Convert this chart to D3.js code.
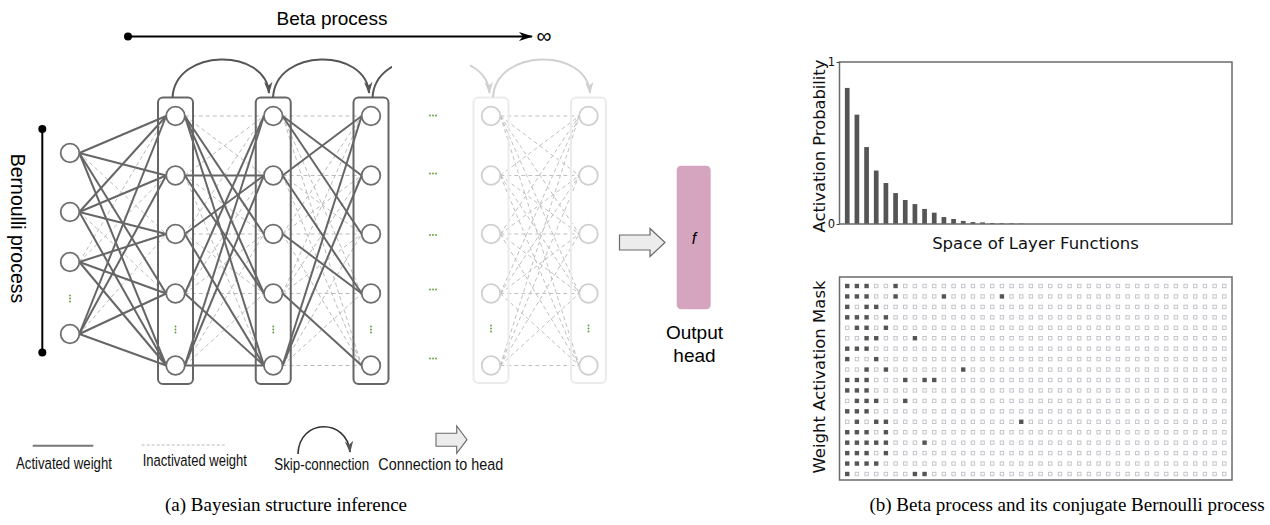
<!DOCTYPE html>
<html>
<head>
<meta charset="utf-8">
<script src="https://cdn.jsdelivr.net/npm/d3@7"></script>
<style>
  body { margin: 0; background: #fff; }
  svg { display: block; }
</style>
</head>
<body>
<svg id="fig" width="1270" height="525"></svg>
<script>
// ---------------- data ----------------
const inputNodes = ["x1", "x2", "x3", "xn"];
const hiddenNodes = ["h1", "h2", "h3", "h4", "hn"];
const denseLayers = [0, 1, 2];
const fadedLayers = [0, 1];

// activated weights: for each source node, the target nodes it connects to
const activeInTo1 = [[0, 1, 3, 4], [0, 1, 2, 4], [2, 3, 4], [0, 1, 3, 4]];
const active1To2 = [[2, 3, 4], [1, 3], [1, 4], [0, 4], [0, 1, 4]];
const active2To3 = [[1, 2], [0, 3], [3], [4], [0, 1]];

const legendLabels = ["Activated weight", "Inactivated weight", "Skip-connection", "Connection to head"];
const captionA = "(a) Bayesian structure inference";
const captionB = "(b) Beta process and its conjugate Bernoulli process";

// activation probability of each layer function (40 shown)
const activationProb = [
  0.84, 0.675, 0.475, 0.33, 0.253, 0.191, 0.148, 0.123, 0.093, 0.07,
  0.043, 0.031, 0.019, 0.012, 0.01, 0.006, 0.005, 0.004, 0.003, 0,
  0, 0, 0, 0, 0, 0, 0, 0, 0, 0,
  0, 0, 0, 0, 0, 0, 0, 0, 0, 0
];
const probTicks = [0, 1];

// weight activation mask: active columns in each row
const maskActive = [
  [0, 1, 2, 5], [0, 1, 2, 5, 10, 16], [0, 2, 3], [0, 1, 2, 4], [1, 2, 4],
  [2, 3, 7], [0, 1, 2], [0, 3], [2, 4, 12], [0, 1, 2, 6, 8, 9],
  [0, 1, 2], [1, 2, 3, 6], [0, 1, 2], [1, 3, 4, 18], [0, 1, 2, 4],
  [0, 1, 2, 3, 4, 8], [0, 1, 2, 4], [0, 1, 2, 3], [0, 7, 8]
];

// ---------------- drawing ----------------
const svg = d3.select("#fig");
svg.append("rect").attr("width", 1270).attr("height", 525).attr("fill", "#fff");

const SANS = "'Liberation Sans', Arial, Helvetica, sans-serif";
const DJV = "'DejaVu Sans', sans-serif";
const SERIF = "'Liberation Serif', 'Times New Roman', serif";

const defs = svg.append("defs");
function arrowMarker(id, color) {
  defs.append("marker")
    .attr("id", id).attr("viewBox", "0 0 12 10")
    .attr("refX", 11).attr("refY", 5)
    .attr("markerWidth", 12).attr("markerHeight", 10)
    .attr("markerUnits", "userSpaceOnUse")
    .attr("orient", "auto")
    .append("path").attr("d", "M0,0.8 L12,5 L0,9.2 L3.5,5 Z").attr("fill", color);
}
arrowMarker("skipDark", "#555");
arrowMarker("skipLight", "#d0d0d0");
defs.append("marker")
  .attr("id", "betaHead").attr("viewBox", "0 0 14 10")
  .attr("refX", 13).attr("refY", 5)
  .attr("markerWidth", 14).attr("markerHeight", 10)
  .attr("markerUnits", "userSpaceOnUse").attr("orient", "auto")
  .append("path").attr("d", "M0,0.5 L14,5 L0,9.5 L4,5 Z").attr("fill", "#000");

defs.append("clipPath").attr("id", "clipLeft")
  .append("rect").attr("x", 0).attr("y", 0).attr("width", 392).attr("height", 525);
defs.append("clipPath").attr("id", "clipRight")
  .append("rect").attr("x", 470).attr("y", 0).attr("width", 300).attr("height", 525);

// ----- network layout -----
const R = 9.3;
const xIn = 70;
const xDense = d3.scaleLinear().domain([0, 2]).range([175.5, 371]);
const xFaded = d3.scaleLinear().domain([0, 1]).range([491, 588.5]);
const yIn = d3.scaleOrdinal().domain(inputNodes).range([153, 212, 262, 334]);
const yHid = d3.scaleOrdinal().domain(hiddenNodes).range([116, 175.5, 234, 293.5, 365.5]);
const boxTop = 97.5, boxBottom = 384, boxW = 35;

const net = svg.append("g");
const gDash = net.append("g");
const gBox = net.append("g");
const gSolid = net.append("g");
const gNode = net.append("g");

function edge(g, x1, y1, x2, y2, solid, faded) {
  g.append("line")
    .attr("x1", x1 + R).attr("y1", y1).attr("x2", x2 - R).attr("y2", y2)
    .attr("stroke", solid ? "#666" : (faded ? "#c0c0c0" : "#bbbbbb"))
    .attr("stroke-width", solid ? 2 : 1)
    .attr("stroke-dasharray", solid ? null : "4,3");
}

function connect(srcX, srcYs, dstX, active) {
  srcYs.forEach((ys, i) => {
    hiddenNodes.forEach((h, j) => {
      const on = active[i].includes(j);
      edge(on ? gSolid : gDash, srcX, ys, dstX, yHid(h), on, false);
    });
  });
}
connect(xIn, inputNodes.map(yIn), xDense(0), activeInTo1);
connect(xDense(0), hiddenNodes.map(yHid), xDense(1), active1To2);
connect(xDense(1), hiddenNodes.map(yHid), xDense(2), active2To3);

// faded pair of layers: all weights inactive
hiddenNodes.forEach(a => hiddenNodes.forEach(b =>
  edge(gDash, xFaded(0), yHid(a), xFaded(1), yHid(b), false, true)));

// layer boxes
denseLayers.forEach(l => gBox.append("rect")
  .attr("x", xDense(l) - boxW / 2).attr("y", boxTop)
  .attr("width", boxW).attr("height", boxBottom - boxTop)
  .attr("rx", 5).attr("fill", "none").attr("stroke", "#666").attr("stroke-width", 2));
fadedLayers.forEach(l => gBox.append("rect")
  .attr("x", xFaded(l) - boxW / 2).attr("y", boxTop)
  .attr("width", boxW).attr("height", boxBottom - 1 - boxTop)
  .attr("rx", 5).attr("fill", "none").attr("stroke", "#ebebeb").attr("stroke-width", 2));

// nodes
function node(x, y, faded) {
  gNode.append("circle").attr("cx", x).attr("cy", y).attr("r", R)
    .attr("fill", "#fff").attr("stroke", faded ? "#cfcfcf" : "#6e6e6e").attr("stroke-width", 1.8);
}
inputNodes.forEach(n => node(xIn, yIn(n), false));
denseLayers.forEach(l => hiddenNodes.forEach(h => node(xDense(l), yHid(h), false)));
fadedLayers.forEach(l => hiddenNodes.forEach(h => node(xFaded(l), yHid(h), true)));

// ellipsis marks (green)
const GREEN = "#5b9a3c";
function vDots(x, y) {
  [-3, 0, 3].forEach(d => gNode.append("circle").attr("cx", x).attr("cy", y + d).attr("r", 0.9).attr("fill", GREEN));
}
function hDots(x, y) {
  [-3, 0, 3].forEach(d => gNode.append("circle").attr("cx", x + d).attr("cy", y).attr("r", 0.9).attr("fill", GREEN));
}
vDots(xIn, 298.5);
denseLayers.forEach(l => vDots(xDense(l), 329.5));
fadedLayers.forEach(l => vDots(xFaded(l), 328.5));
[115.5, 173.5, 235, 289.5, 358.5].forEach(y => hDots(433, y));

// skip connections
function skipArc(g, x0, x1, y0, light, clip) {
  const y1 = y0 - 4.5;
  const c = y0 - 50;
  g.append("path")
    .attr("d", `M${x0},${y0} C${x0 + 3},${c} ${x1 - 3},${c} ${x1},${y1}`)
    .attr("fill", "none").attr("stroke", light ? "#d0d0d0" : "#555").attr("stroke-width", 2)
    .attr("marker-end", `url(#${light ? "skipLight" : "skipDark"})`)
    .attr("clip-path", clip ? `url(#${clip})` : null);
}
skipArc(net, 172.5, 269, boxTop, false);
skipArc(net, 273, 369, boxTop, false);
skipArc(net, 372.5, 468, boxTop, false, "clipLeft");
skipArc(net, 394, 489.5, boxTop, true, "clipRight");
skipArc(net, 493, 590, boxTop, true);

// Beta process axis
svg.append("line").attr("x1", 128).attr("y1", 36.5).attr("x2", 532).attr("y2", 36.5)
  .attr("stroke", "#000").attr("stroke-width", 2).attr("marker-end", "url(#betaHead)");
svg.append("circle").attr("cx", 128).attr("cy", 36.5).attr("r", 4).attr("fill", "#000");
svg.append("text").attr("x", 332).attr("y", 25).attr("text-anchor", "middle")
  .attr("font-family", SANS).attr("font-size", 19).text("Beta process");
svg.append("text").attr("x", 544).attr("y", 43).attr("text-anchor", "middle")
  .attr("font-family", SANS).attr("font-size", 21).text("∞");

// Bernoulli process axis
svg.append("line").attr("x1", 42.3).attr("y1", 129).attr("x2", 42.3).attr("y2", 352.5)
  .attr("stroke", "#000").attr("stroke-width", 2);
[129, 352.5].forEach(y => svg.append("circle").attr("cx", 42.3).attr("cy", y).attr("r", 4).attr("fill", "#000"));
svg.append("text").attr("transform", "translate(10.5,228.5) rotate(90)").attr("text-anchor", "middle")
  .attr("font-family", SANS).attr("font-size", 19.5).text("Bernoulli process");

// block arrow
function blockArrow(x0, x1, xh, yc, sh, hh) {
  return `M${x0},${yc - sh} L${xh},${yc - sh} L${xh},${yc - hh} L${x1},${yc} L${xh},${yc + hh} L${xh},${yc + sh} L${x0},${yc + sh} Z`;
}
svg.append("path").attr("d", blockArrow(619.5, 665, 650, 242.5, 7.5, 14))
  .attr("fill", "#ececec").attr("stroke", "#6a6a6a").attr("stroke-width", 1.2);

// output head
svg.append("rect").attr("x", 676.7).attr("y", 165.7).attr("width", 34).attr("height", 143.6)
  .attr("rx", 4.5).attr("fill", "#d5a5bf");
svg.append("text").attr("x", 694).attr("y", 244).attr("text-anchor", "middle")
  .attr("font-family", SANS).attr("font-style", "italic").attr("font-size", 16).text("f");
svg.append("text").attr("x", 694.5).attr("y", 339).attr("text-anchor", "middle")
  .attr("font-family", SANS).attr("font-size", 19).text("Output");
svg.append("text").attr("x", 694.5).attr("y", 362).attr("text-anchor", "middle")
  .attr("font-family", SANS).attr("font-size", 19).text("head");

// legend
const leg = svg.append("g");
leg.append("line").attr("x1", 32.7).attr("x2", 93.3).attr("y1", 445.7).attr("y2", 445.7)
  .attr("stroke", "#777").attr("stroke-width", 2);
leg.append("line").attr("x1", 141.7).attr("x2", 225).attr("y1", 445).attr("y2", 445)
  .attr("stroke", "#bbb").attr("stroke-width", 1).attr("stroke-dasharray", "3,2");
leg.append("path").attr("d", "M298,454 C299,418 347,418 350,452")
  .attr("fill", "none").attr("stroke", "#333").attr("stroke-width", 1.6).attr("marker-end", "url(#skipDark)");
leg.append("path").attr("d", blockArrow(436, 467, 456.7, 439.7, 6.5, 13.7))
  .attr("fill", "#ececec").attr("stroke", "#6a6a6a").attr("stroke-width", 1.1);
// condensed labels: each is squeezed horizontally to its slot width
const legPos = [[16, 468.5, 96], [142.7, 465.5, 104.3], [274.3, 469.5, 95], [378.3, 469.5, 125]];
legendLabels.forEach((t, i) => {
  const [x, y, w] = legPos[i];
  const txt = leg.append("text").attr("x", 0).attr("y", 0)
    .attr("font-family", SANS).attr("font-size", 17).attr("fill", "#111").text(t);
  const natural = txt.node().getComputedTextLength();
  txt.attr("transform", `translate(${x},${y}) scale(${w / natural},1)`);
});

// captions
svg.append("text").attr("x", 286).attr("y", 511).attr("text-anchor", "middle")
  .attr("font-family", SERIF).attr("font-size", 19).text(captionA);
svg.append("text").attr("x", 1067).attr("y", 511).attr("text-anchor", "middle")
  .attr("font-family", SERIF).attr("font-size", 19).text(captionB);

// ---------------- panel (b): activation probabilities ----------------
const idx = d3.range(activationProb.length);
const fx = d3.scalePoint().domain(idx).range([839.5, 1232]).padding(0.8);
const py = d3.scaleLinear().domain([0, 1]).range([224, 62]);
const barW = 4.7;
const probPanel = svg.append("g");
probPanel.selectAll("rect.bar").data(activationProb).join("rect").attr("class", "bar")
  .attr("x", (d, i) => fx(i) - barW / 2).attr("width", barW)
  .attr("y", d => py(d)).attr("height", d => py(0) - py(d))
  .attr("fill", "#555");
probPanel.append("rect").attr("x", 839.5).attr("y", 62).attr("width", 1232 - 839.5).attr("height", 162)
  .attr("fill", "none").attr("stroke", "#6b6b6b").attr("stroke-width", 1.5);
const yAxis = probPanel.append("g").attr("transform", "translate(839.5,0)")
  .call(d3.axisLeft(py).tickValues(probTicks).tickSize(3).tickPadding(1.5).tickFormat(d3.format("d")));
yAxis.select(".domain").remove();
yAxis.selectAll("line").attr("stroke", "#444");
yAxis.selectAll("text").attr("font-family", DJV).attr("font-size", 11.5).attr("fill", "#111");
probPanel.append("text").attr("transform", "translate(825,146) rotate(-90)").attr("text-anchor", "middle")
  .attr("font-family", DJV).attr("font-size", 16.3).attr("fill", "#111").text("Activation Probability");
probPanel.append("text").attr("x", 1035.5).attr("y", 249).attr("text-anchor", "middle")
  .attr("font-family", DJV).attr("font-size", 16.5).attr("fill", "#111").text("Space of Layer Functions");

// ---------------- panel (b): weight activation mask ----------------
const rows = d3.range(maskActive.length);
const my = d3.scalePoint().domain(rows).range([286, 474]);
const cell = 4.4;
const maskPanel = svg.append("g");
const cells = [];
rows.forEach(r => idx.forEach(c => cells.push({ r, c, on: maskActive[r].includes(c) })));
maskPanel.selectAll("rect.cell").data(cells).join("rect").attr("class", "cell")
  .attr("x", d => fx(d.c) - cell / 2 + (d.on ? 0 : 0.5)).attr("y", d => my(d.r) - cell / 2 + (d.on ? 0 : 0.5))
  .attr("width", d => d.on ? cell : cell - 1).attr("height", d => d.on ? cell : cell - 1)
  .attr("fill", d => d.on ? "#555" : "#fff")
  .attr("stroke", d => d.on ? "none" : "#c4c4cb").attr("stroke-width", 1);
maskPanel.append("rect").attr("x", 839.5).attr("y", 277).attr("width", 1232 - 839.5).attr("height", 203)
  .attr("fill", "none").attr("stroke", "#6b6b6b").attr("stroke-width", 1.5);
maskPanel.append("text").attr("transform", "translate(825,377) rotate(-90)").attr("text-anchor", "middle")
  .attr("font-family", DJV).attr("font-size", 16.5).attr("fill", "#111").text("Weight Activation Mask");
</script>
</body>
</html>
